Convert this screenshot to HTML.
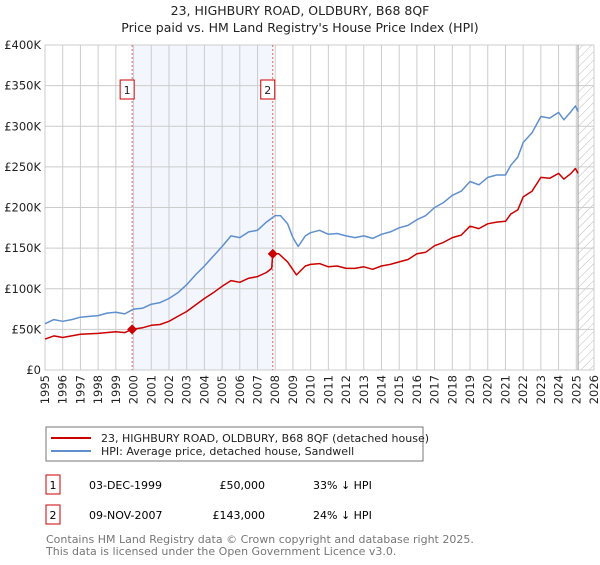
<!DOCTYPE html>
<html><head><meta charset="utf-8"><style>
body{margin:0;background:#fff;font-family:"Liberation Sans","DejaVu Sans",sans-serif;}
svg text{font-family:"DejaVu Sans","Liberation Sans",sans-serif;}
</style></head><body>
<svg id="c" width="600" height="560" xmlns="http://www.w3.org/2000/svg">
<defs><pattern id="hatch" width="6" height="6" patternUnits="userSpaceOnUse" patternTransform="rotate(45)"><line x1="0" y1="0" x2="0" y2="6" stroke="#bbb" stroke-width="1"/></pattern></defs>
<text x="300" y="15" text-anchor="middle" font-size="12.5" fill="#222">23, HIGHBURY ROAD, OLDBURY, B68 8QF</text>
<text x="300" y="32" text-anchor="middle" font-size="12.5" fill="#222">Price paid vs. HM Land Registry's House Price Index (HPI)</text>
<g id="plot"></g>
<rect x="46" y="427" width="377" height="34" fill="#fff" stroke="#777"/>
<line x1="51" y1="438" x2="91" y2="438" stroke="#cc0000" stroke-width="2"/>
<text x="101" y="442" font-size="11" fill="#222">23, HIGHBURY ROAD, OLDBURY, B68 8QF (detached house)</text>
<line x1="51" y1="451" x2="91" y2="451" stroke="#5f8fcf" stroke-width="2"/>
<text x="101" y="455" font-size="11" fill="#222">HPI: Average price, detached house, Sandwell</text>
<g>
<rect x="46" y="475" width="14" height="19" fill="#fff" stroke="#cc0000"/><text x="53" y="489" text-anchor="middle" font-size="11">1</text>
<text x="89" y="489" font-size="11">03-DEC-1999</text><text x="265" y="489" font-size="11" text-anchor="end">£50,000</text><text x="313" y="489" font-size="11">33% ↓ HPI</text></g>
<g>
<rect x="46" y="505" width="14" height="19" fill="#fff" stroke="#cc0000"/><text x="53" y="519" text-anchor="middle" font-size="11">2</text>
<text x="89" y="519" font-size="11">09-NOV-2007</text><text x="265" y="519" font-size="11" text-anchor="end">£143,000</text><text x="313" y="519" font-size="11">24% ↓ HPI</text></g>
<text x="46" y="543" font-size="11" fill="#777">Contains HM Land Registry data © Crown copyright and database right 2025.</text>
<text x="46" y="555" font-size="11" fill="#777">This data is licensed under the Open Government Licence v3.0.</text>
</svg>
<script>
const hpiYears=[1995,1995.5,1996,1996.5,1997,1997.5,1998,1998.5,1999,1999.5,2000,2000.5,2001,2001.5,2002,2002.5,2003,2003.5,2004,2004.5,2005,2005.5,2006,2006.5,2007,2007.5,2008,2008.3,2008.7,2009,2009.3,2009.7,2010,2010.5,2011,2011.5,2012,2012.5,2013,2013.5,2014,2014.5,2015,2015.5,2016,2016.5,2017,2017.5,2018,2018.5,2019,2019.5,2020,2020.5,2021,2021.3,2021.7,2022,2022.5,2023,2023.5,2024,2024.3,2024.7,2024.95,2025.1];
const hpiValues=[57,62,60,62,65,66,67,70,71,69,75,76,81,83,88,95,105,117,128,140,152,165,163,170,172,182,190,190,180,163,152,165,169,172,167,168,165,163,165,162,167,170,175,178,185,190,200,206,215,220,232,228,237,240,240,252,262,280,292,312,310,317,308,318,325,318];
const propYears=[1995,1995.5,1996,1997,1998,1999,1999.5,1999.92,2000.5,2001,2001.5,2002,2002.5,2003,2003.5,2004,2004.5,2005,2005.5,2006,2006.5,2007,2007.5,2007.8,2007.86,2008.2,2008.7,2009.2,2009.7,2010,2010.5,2011,2011.5,2012,2012.5,2013,2013.5,2014,2014.5,2015,2015.5,2016,2016.5,2017,2017.5,2018,2018.5,2019,2019.5,2020,2020.5,2021,2021.3,2021.7,2022,2022.5,2023,2023.5,2024,2024.3,2024.7,2024.95,2025.1];
const propValues=[38,42,40,44,45,47,46,50,52,55,56,60,66,72,80,88,95,103,110,108,113,115,120,125,143,143,133,117,128,130,131,127,128,125,125,127,124,128,130,133,136,143,145,153,157,163,166,177,174,180,182,183,192,197,213,220,237,236,242,235,242,248,242];
const saleYears=[1999.92,2007.86];
const saleValues=[50,143];
const saleLabels=["1","2"];
const yTicks=[0,50,100,150,200,250,300,350,400];
const yTickLabels=["£0","£50K","£100K","£150K","£200K","£250K","£300K","£350K","£400K"];
const xTicks=[1995,1996,1997,1998,1999,2000,2001,2002,2003,2004,2005,2006,2007,2008,2009,2010,2011,2012,2013,2014,2015,2016,2017,2018,2019,2020,2021,2022,2023,2024,2025,2026];

const X0=45,X1=594,Y0=370,Y1=45;
const xs=y=>X0+(y-1995)/(2026-1995)*(X1-X0);
const ys=v=>Y0-v/400*(Y0-Y1);
const NS="http://www.w3.org/2000/svg";
const g=document.getElementById('plot');
function mk(t,a){const e=document.createElementNS(NS,t);for(const k in a)e.setAttribute(k,a[k]);g.appendChild(e);return e;}
let e;
e=mk('rect',{x:xs(saleYears[0]),y:Y1,width:xs(saleYears[1])-xs(saleYears[0]),height:Y0-Y1,fill:'#f3f6fd'});


e=mk('rect',{x:xs(2025.1),y:Y1,width:X1-xs(2025.1),height:Y0-Y1,fill:'url(#hatch)'});


yTicks.forEach((t,i)=>{
 e=mk('line',{x1:X0,x2:X1,y1:ys(t),y2:ys(t),stroke:'#ccc'});
 
 
 e=mk('text',{x:X0-4,y:ys(t)+4,'text-anchor':'end','font-size':'11.5',fill:'#222'});e.textContent=yTickLabels[i];
 
 
});
xTicks.forEach(t=>{
 e=mk('line',{x1:xs(t),x2:xs(t),y1:Y1,y2:Y0,stroke:'#ccc'});
 
 
 e=mk('text',{x:0,y:0,'text-anchor':'end','font-size':'11.5',fill:'#222',transform:`translate(${xs(t)+4},${Y0+5}) rotate(-90)`});e.textContent=t;
 
 
});
mk('rect',{x:X0,y:Y1,width:X1-X0,height:Y0-Y1,fill:'none',stroke:'#ccc'});
e=mk('line',{x1:xs(2025.1),x2:xs(2025.1),y1:Y1,y2:Y0,stroke:'#999'});


saleYears.forEach((s,i)=>{
 e=mk('line',{x1:xs(s),x2:xs(s),y1:Y1,y2:Y0,stroke:'#e06060','stroke-dasharray':'2,2'});
 
 
});
function path(xa,va,col,name){
 const d=xa.map((x,i)=>(i?'L':'M')+xs(x).toFixed(1)+','+ys(va[i]).toFixed(1)).join('');
 e=mk('path',{d:d,fill:'none',stroke:col,'stroke-width':1.5,'stroke-linejoin':'round'});
 
 
}
path(hpiYears,hpiValues,'#5f8fcf','hpi-line');
path(propYears,propValues,'#cc0000','property-line');
saleYears.forEach((s,i)=>{
 const cx=xs(s),cy=ys(saleValues[i]);
 e=mk('path',{d:`M${cx},${cy-5}L${cx+5},${cy}L${cx},${cy+5}L${cx-5},${cy}Z`,fill:'#cc0000'});
 
 
 e=mk('rect',{x:cx-12,y:80,width:14,height:19,fill:'#fff',stroke:'#cc0000'});
 
 
 e=mk('text',{x:cx-5,y:94,'text-anchor':'middle','font-size':'11',fill:'#222'});e.textContent=saleLabels[i];
 
 
});
</script>
</body></html>
